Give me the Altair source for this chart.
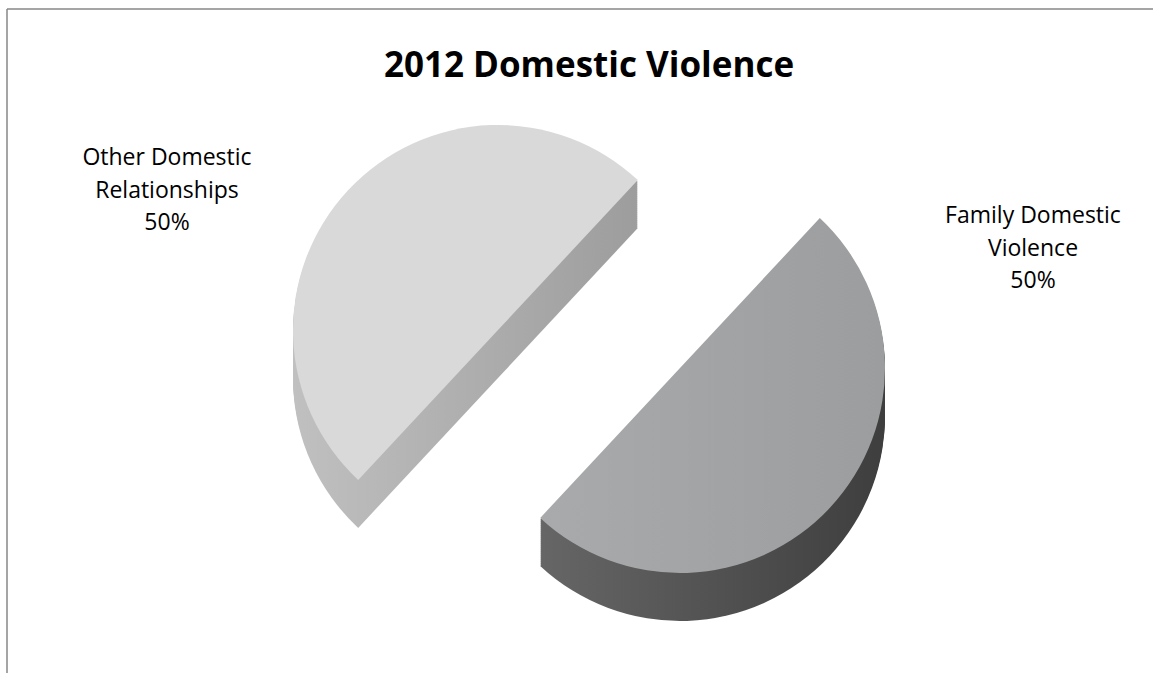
import math
import altair as alt
import pandas as pd

# ---- data ----
categories = ["Family Domestic Violence", "Other Domestic Relationships"]
values = [50, 50]
label_lines = [["Family Domestic", "Violence"], ["Other Domestic", "Relationships"]]
title_text = "2012 Domestic Violence"

total = sum(values)
df = pd.DataFrame({
    "category": categories,
    "value": values,
    "order": list(range(len(categories))),
    "label": ["\n".join(lines + [f"{round(100 * v / total)}%"]) for lines, v in zip(label_lines, values)],
})

# ---- styling / layout ----
W, H = 1153, 673
R = 205            # pie radius (px)
DEPTH = 48         # extrusion thickness (px)
ROT = math.radians(43)
CX_L, CY_L = 498, 330       # "Other" piece (exploded up-left)
CX_R, CY_R = 680, 368       # "Family" piece (exploded down-right)
FONT = "Open Sans"


def grad(c0, c1):
    return {"gradient": "linear", "x1": 0, "y1": 0, "x2": 1, "y2": 0,
            "stops": [{"offset": 0, "color": c0}, {"offset": 1, "color": c1}]}


theta_enc = alt.Theta("value:Q", stack=True,
                      scale=alt.Scale(range=[ROT, ROT + 2 * math.pi]))

base = alt.Chart(df)


def piece(cat, cx, cy, fill):
    return base.mark_arc(outerRadius=R, innerRadius=0).encode(
        theta=theta_enc,
        order=alt.Order("order:Q"),
        x=alt.value(cx),
        y=alt.value(cy),
        fill=alt.condition(alt.datum.category == cat, alt.value(fill),
                           alt.value("rgba(0,0,0,0)")),
    )


layers = []
# left (light) piece: side then top
for k in range(DEPTH, 0, -2):
    layers.append(piece(categories[1], CX_L, CY_L + k, grad("#c0c0c0", "#9d9d9d")))
layers.append(piece(categories[1], CX_L, CY_L, "#d9d9d9"))
# right (granite) piece: side then top
for k in range(DEPTH, 0, -2):
    layers.append(piece(categories[0], CX_R, CY_R + k, grad("#666666", "#3e3e3e")))
layers.append(piece(categories[0], CX_R, CY_R, grad("#a9aaab", "#9c9d9e")))

# labels
label_pos = {categories[0]: (1033, 223), categories[1]: (167, 165)}
for cat, (lx, ly) in label_pos.items():
    layers.append(
        base.transform_filter(alt.datum.category == cat).mark_text(
            font=FONT, fontSize=23, color="#000000", align="center",
            baseline="alphabetic", lineBreak="\n", lineHeight=32.5,
        ).encode(x=alt.value(lx), y=alt.value(ly), text="label:N")
    )

# title
title_df = pd.DataFrame({"t": [title_text]})
layers.append(
    alt.Chart(title_df).mark_text(
        font=FONT, fontSize=35, fontWeight="bold", color="#000000",
        align="center", baseline="alphabetic",
    ).encode(x=alt.value(589), y=alt.value(77), text="t:N")
)

# chart frame (top and left edges visible)
frame_df = pd.DataFrame({"a": [0]})
layers.append(alt.Chart(frame_df).mark_rule(color="#878787", strokeWidth=1.5).encode(
    x=alt.value(7), x2=alt.value(W), y=alt.value(9), y2=alt.value(9)))
layers.append(alt.Chart(frame_df).mark_rule(color="#878787", strokeWidth=1.5).encode(
    x=alt.value(7), x2=alt.value(7), y=alt.value(9), y2=alt.value(H)))

chart = alt.layer(*layers).properties(
    width=W, height=H, autosize="none", padding=0, background="#ffffff"
).configure_view(strokeWidth=0)

chart.save("out.html", embed_options={"renderer": "svg", "actions": False})
